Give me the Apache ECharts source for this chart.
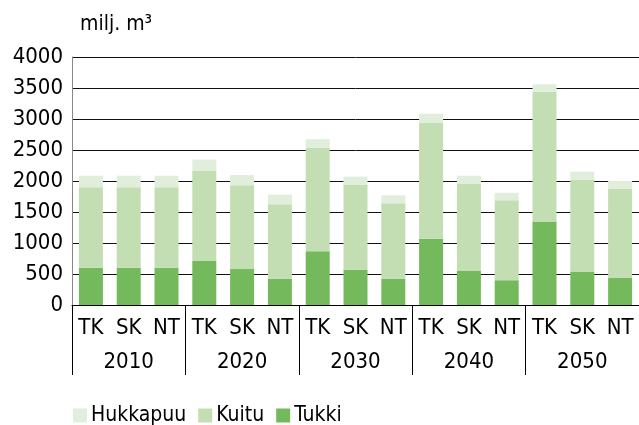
<!DOCTYPE html>
<html>
<head>
    <meta charset="UTF-8">
    <title>Puunkäyttö</title>
<script src="https://cdn.jsdelivr.net/npm/echarts@6/dist/echarts.min.js"></script>
</head>
<body style="margin:0;background:#fff;">
    <div id="main" style="width: 639px;height:425px;"></div>
    <script type="text/javascript">
        var years = ['2010', '2020', '2030', '2040', '2050'];
        var scenarios = ['TK', 'SK', 'NT'];
        var yTicks = [0, 500, 1000, 1500, 2000, 2500, 3000, 3500, 4000];
        // milj. m3, order TK SK NT for each year
        var tukki = [600, 600, 600, 710, 580, 425, 865, 570, 425, 1070, 550, 400, 1345, 540, 435];
        var kuitu = [1300, 1300, 1300, 1460, 1350, 1200, 1675, 1375, 1215, 1875, 1410, 1290, 2095, 1485, 1440];
        var hukkapuu = [185, 185, 185, 175, 165, 155, 135, 125, 130, 140, 125, 120, 120, 125, 125];

        var cats = [];
        years.forEach(function () { scenarios.forEach(function (s) { cats.push(s); }); });

        var font = '"Liberation Sans Narrow", "DejaVu Sans Condensed", sans-serif';
        var myChart = echarts.init(document.getElementById('main'));
        var option = {
            backgroundColor: '#fff',
            animation: false,
            textStyle: { fontFamily: font, color: '#000' },
            title: {
                text: 'milj. m³',
                left: 75, top: 9,
                textStyle: { fontFamily: font, fontSize: 21, fontWeight: 'normal', color: '#000' }
            },
            legend: {
                left: 68, top: 400,
                itemWidth: 14, itemHeight: 14, itemGap: 12,
                icon: 'rect',
                textStyle: { fontFamily: font, fontSize: 21, color: '#000', padding: [0, 0, 0, -1] },
                data: ['Hukkapuu', 'Kuitu', 'Tukki']
            },
            grid: { left: 72, right: 0, top: 57, bottom: 120 },
            xAxis: [{
                type: 'category',
                data: cats,
                axisLine: { lineStyle: { color: '#000', width: 1 } },
                axisTick: { show: false },
                axisLabel: { color: '#000', fontSize: 22, margin: 12, interval: 0 }
            }, {
                type: 'category',
                position: 'bottom',
                offset: 70,
                data: years,
                axisLine: { show: false },
                axisTick: { show: true, inside: true, length: 70, lineStyle: { color: '#000', width: 1 } },
                axisLabel: { color: '#000', fontSize: 22, inside: true, margin: 2 }
            }],
            yAxis: {
                type: 'value',
                min: yTicks[0], max: yTicks[yTicks.length - 1], interval: 500,
                axisLine: { show: true, lineStyle: { color: '#888', width: 1 } },
                axisTick: { show: false },
                splitLine: { lineStyle: { color: '#111', width: 1 } },
                axisLabel: { color: '#000', fontSize: 22, margin: 9, formatter: function (v) { return String(v); } }
            },
            series: [
                { name: 'Tukki', type: 'bar', stack: 'a', barWidth: 24, data: tukki, itemStyle: { color: '#74b95c' } },
                { name: 'Kuitu', type: 'bar', stack: 'a', barWidth: 24, data: kuitu, itemStyle: { color: '#c4deb3' } },
                { name: 'Hukkapuu', type: 'bar', stack: 'a', barWidth: 24, data: hukkapuu, itemStyle: { color: '#e1eedb' } }
            ]
        };
        myChart.setOption(option);
    </script>
</body>
</html>
